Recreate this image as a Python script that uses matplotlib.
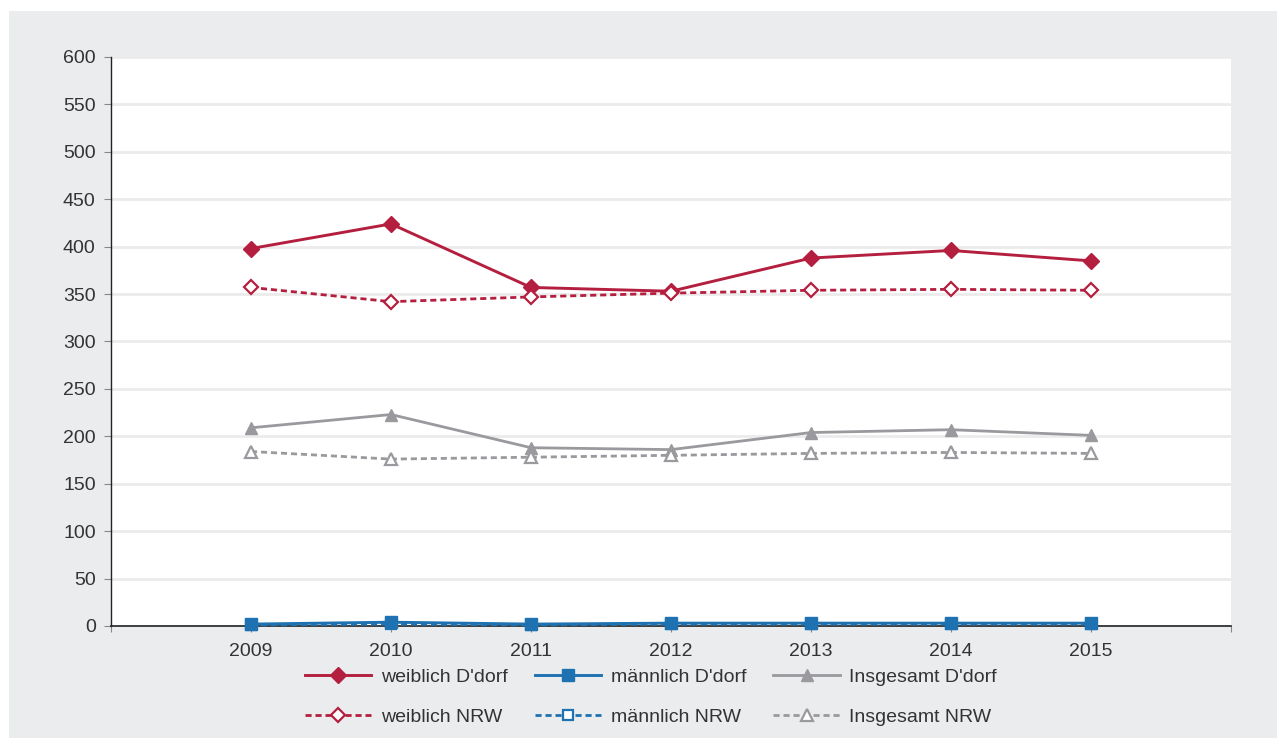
import matplotlib
matplotlib.use("Agg")
import matplotlib.pyplot as plt
from matplotlib.patches import Rectangle

# data
years = ["2009", "2010", "2011", "2012", "2013", "2014", "2015"]
weiblich_ddorf = [398, 424, 357, 353, 388, 396, 385]
weiblich_nrw = [357, 342, 347, 351, 354, 355, 354]
maennlich_ddorf = [2, 4, 2, 3, 3, 3, 3]
maennlich_nrw = [1, 2, 1, 2, 2, 2, 2]
insgesamt_ddorf = [209, 223, 188, 186, 204, 207, 201]
insgesamt_nrw = [184, 176, 178, 180, 182, 183, 182]

red = "#b51f3f"
blue = "#1f72b1"
grey = "#9a9a9e"
text_col = "#333333"

plt.rcParams["font.family"] = ["Liberation Sans", "DejaVu Sans"]

fig = plt.figure(figsize=(12.77, 7.38), dpi=100, facecolor="white")
# grey panel behind the chart
fig.patches.append(Rectangle((9 / 1277, 0), 1268 / 1277, 727 / 738,
                             transform=fig.transFigure, facecolor="#ebecee",
                             edgecolor="none", zorder=0))

ax = fig.add_axes([111 / 1277, (738 - 626) / 738, 1120 / 1277, 569 / 738])
ax.set_zorder(2)
ax.set_facecolor("white")

x = list(range(1, len(years) + 1))
dash = (2.2, 1.4)

h_wd, = ax.plot(x, weiblich_ddorf, color=red, lw=2.1, marker="D", ms=8,
                label="weiblich D'dorf", clip_on=False, zorder=4)
h_wn, = ax.plot(x, weiblich_nrw, color=red, lw=2.0, ls="--", dashes=dash,
                marker="D", ms=7, mfc="white", mec=red, mew=1.6,
                label="weiblich NRW", clip_on=False, zorder=4)
h_id, = ax.plot(x, insgesamt_ddorf, color=grey, lw=2.0, marker="^", ms=9,
                label="Insgesamt D'dorf", clip_on=False, zorder=3)
h_in, = ax.plot(x, insgesamt_nrw, color=grey, lw=2.0, ls="--", dashes=dash,
                marker="^", ms=9, mfc="white", mec=grey, mew=1.6,
                label="Insgesamt NRW", clip_on=False, zorder=3)
h_mn, = ax.plot(x, maennlich_nrw, color=blue, lw=2.0, ls="--", dashes=dash,
                marker="s", ms=7, mfc="white", mec=blue, mew=1.6,
                label="männlich NRW", clip_on=False, zorder=5)
h_md, = ax.plot(x, maennlich_ddorf, color=blue, lw=2.1, marker="s", ms=8.5,
                label="männlich D'dorf", clip_on=False, zorder=6)

ax.set_xlim(0, 8)
ax.set_ylim(0, 600)
ax.set_yticks(range(0, 601, 50))
ax.set_xticks(range(0, 9))
ax.set_xticklabels([""] + years + [""])
ax.yaxis.grid(True, color="#ebebeb", lw=2.0)
ax.set_axisbelow(True)

for s in ["top", "right"]:
    ax.spines[s].set_visible(False)
ax.spines["left"].set_color("#222222")
ax.spines["bottom"].set_color("#222222")
ax.spines["left"].set_linewidth(1.0)
ax.spines["bottom"].set_linewidth(1.2)

ax.tick_params(axis="y", length=5, color="#888888", labelsize=14,
               labelcolor=text_col, pad=6)
ax.tick_params(axis="x", length=4, color="#888888", labelsize=14,
               labelcolor=text_col, pad=8)

handles = [h_wd, h_wn, h_md, h_mn, h_id, h_in]
fig.legend(handles=handles, labels=[h.get_label() for h in handles],
           loc="center", bbox_to_anchor=(651 / 1277, 41 / 738), ncol=3,
           frameon=False, fontsize=14, labelcolor=text_col, numpoints=1,
           handlelength=3.4, handletextpad=0.5, columnspacing=1.4,
           labelspacing=1.12)

fig.savefig("out.png", dpi=100, facecolor=fig.get_facecolor())
